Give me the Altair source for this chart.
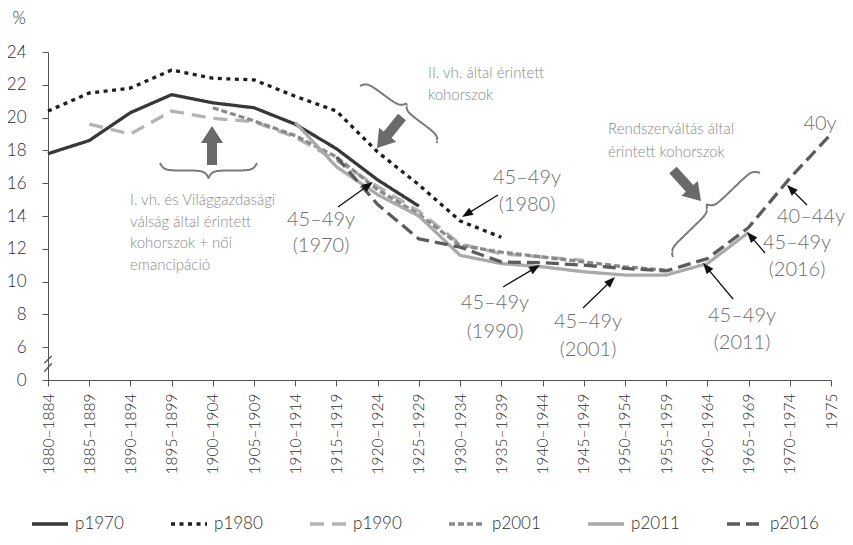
import math
import altair as alt
import pandas as pd

# ---------------- data ----------------
cats = ["1880–1884", "1885–1889", "1890–1894", "1895–1899", "1900–1904",
        "1905–1909", "1910–1914", "1915–1919", "1920–1924", "1925–1929",
        "1930–1934", "1935–1939", "1940–1944", "1945–1949", "1950–1954",
        "1955–1959", "1960–1964", "1965–1969", "1970–1974", "1975"]
N = None
p1970 = [17.8, 18.6, 20.3, 21.4, 20.9, 20.6, 19.6, 18.1, 16.2, 14.6] + [N] * 10
p1980 = [20.4, 21.5, 21.8, 22.9, 22.4, 22.3, 21.3, 20.4, 17.9, 15.9, 13.7, 12.7] + [N] * 8
p1990 = [N, 19.6, 19.0, 20.4, 19.95, 19.75, 18.8, 17.4, 15.8, 14.3, 12.3, 11.7, 11.5, 11.3] + [N] * 6
p2001 = [N] * 4 + [20.6, 19.8, 18.9, 17.6, 15.6, 14.1, 12.2, 11.8, 11.5, 11.2, 10.9, 10.7] + [N] * 4
p2011 = [N] * 6 + [19.7, 17.0, 15.3, 14.0, 11.6, 11.1, 10.9, 10.6, 10.4, 10.4, 11.1, 13.0] + [N] * 2
p2016 = [N] * 7 + [17.6, 14.7, 12.6, 12.1, 11.2, 11.15, 11.0, 10.8, 10.65, 11.4, 13.3, 16.3, 19.0]

names = ["p1970", "p1980", "p1990", "p2001", "p2011", "p2016"]
series = [p1970, p1980, p1990, p2001, p2011, p2016]
colors = ["#383838", "#1e1e1e", "#b3b3b3", "#8a8a8a", "#aaaaaa", "#5c5c5c"]
dashes = [[1, 0], [4, 4.5], [14, 8], [6, 3], [1, 0], [13, 6]]

ytick_vals = [4, 6, 8, 10, 12, 14, 16, 18, 20, 22, 24]

# ---------------- geometry helpers (annotation placement) ----------------
W, H = 783, 328
X0, Y0 = 48, 52
PX = W / 19.0
PY = H / 20.0


def d(x, y):
    """page pixel -> data coords (index, value)"""
    return ((x - X0) / PX, 4 + (Y0 + H - y) / PY)


rows = []
for nm, vals in zip(names, series):
    for i, v in enumerate(vals):
        if v is not None:
            rows.append({"i": i, "v": v, "s": nm})
df = pd.DataFrame(rows)

xs = alt.Scale(domain=[0, 19], nice=False, zero=False)
ys = alt.Scale(domain=[4, 24], nice=False, zero=False)

label_arr = "[" + ",".join("'" + c + "'" for c in cats) + "]"

FONT = "Lato"

xa = alt.Axis(
    values=list(range(20)), labelExpr=label_arr + "[datum.value]", labelAngle=270,
    title=None, grid=False, tickSize=6, labelPadding=7, labelFontSize=15.5,
    labelFont=FONT, labelFontWeight=300, labelColor="#2e2e2e", domainColor="#555555",
    tickColor="#555555", labelFlush=False, labelOverlap=False, labelBound=False)
ya = alt.Axis(
    values=ytick_vals, labelExpr="datum.value == 4 ? '0' : datum.label",
    title="%", titleAngle=0, titleX=-36, titleY=-34, titleAlign="left",
    titleBaseline="middle", titleFontSize=17, titleFontWeight=300,
    titleFont=FONT, titleColor="#2e2e2e",
    grid=False, tickSize=6, labelPadding=16, labelFontSize=17, labelFont=FONT,
    labelFontWeight=300, labelColor="#2e2e2e", domainColor="#555555", tickColor="#555555")


def X(f):
    return alt.X(f, type="quantitative", scale=xs, axis=xa, title=None)


def Y(f):
    return alt.Y(f, type="quantitative", scale=ys, axis=ya, title="%")


legend = alt.Legend(title=None, orient="none", legendX=-18, legendY=452,
                    direction="horizontal", columns=6, symbolType="stroke",
                    symbolSize=1296, symbolStrokeWidth=3.5, labelFontSize=17,
                    labelFont=FONT, labelFontWeight=300, labelColor="#2e2e2e",
                    columnPadding=40, labelOffset=5, padding=0)

lines = alt.Chart(df).mark_line(strokeWidth=3.3, strokeCap="butt", strokeJoin="round").encode(
    x=X("i"),
    y=Y("v"),
    color=alt.Color("s:N", scale=alt.Scale(domain=names, range=colors), legend=legend),
    strokeDash=alt.StrokeDash("s:N", scale=alt.Scale(domain=names, range=dashes), legend=legend),
)

# ---------------- annotation text ----------------
block_txt = [
    (130, 200, "I. vh. és Világgazdasági"),
    (130, 222, "válság által érintett"),
    (130, 243, "kohorszok + női"),
    (130, 265, "emancipáció"),
    (428, 73, "II. vh. által érintett"),
    (428, 95, "kohorszok"),
    (608, 129, "Rendszerváltás által"),
    (608, 152, "érintett kohorszok"),
]
lab_txt = [
    (321, 220, "45–49y"), (321, 246, "(1970)"),
    (527, 178, "45–49y"), (527, 205, "(1980)"),
    (495, 303, "45–49y"), (495, 332, "(1990)"),
    (588, 322, "45–49y"), (588, 350, "(2001)"),
    (742, 316, "45–49y"), (742, 343, "(2011)"),
    (797, 243, "45–49y"), (797, 270, "(2016)"),
    (811, 217, "40–44y"),
    (820, 124, "40y"),
]


def txt_df(lst):
    out = []
    for x, y, t in lst:
        a, b = d(x, y)
        out.append({"i": a, "v": b, "t": t})
    return pd.DataFrame(out)


blocks = alt.Chart(txt_df(block_txt)).mark_text(
    align="left", baseline="middle", font=FONT, fontSize=15, fontWeight=300, color="#8a8a8a"
).encode(x=X("i"), y=Y("v"), text="t:N")

labels = alt.Chart(txt_df(lab_txt)).mark_text(
    align="center", baseline="middle", font=FONT, fontSize=20, fontWeight=300, color="#6e6e6e"
).encode(x=X("i"), y=Y("v"), text="t:N")


# ---------------- arrows ----------------
def arrow_df(lst, back):
    out = []
    for (tx, ty, hx, hy) in lst:
        dx, dy = hx - tx, hy - ty
        L = math.hypot(dx, dy)
        ux, uy = dx / L, dy / L
        ex, ey = hx - ux * back, hy - uy * back
        a1, b1 = d(tx, ty)
        a2, b2 = d(ex, ey)
        a3, b3 = d(hx, hy)
        ang = math.degrees(math.atan2(dx, -dy)) % 360
        out.append({"i": a1, "v": b1, "i2": a2, "v2": b2, "hi": a3, "hv": b3, "ang": ang})
    return pd.DataFrame(out)


thin = [
    (338, 207, 373, 182),
    (498, 195, 462, 217),
    (503, 287, 540, 265),
    (583, 308, 615, 277),
    (733, 299, 703, 263),
    (765, 253, 747, 232),
    (807, 205, 787, 185),
]
thick = [
    (212, 165, 212, 126),
    (402, 117, 377, 148),
    (673, 170, 701, 201),
]

tdf = arrow_df(thin, 6)
kdf = arrow_df(thick, 12)

thin_line = alt.Chart(tdf).mark_rule(color="#111111", strokeWidth=1.3).encode(
    x=X("i"), y=Y("v"), x2="i2:Q", y2="v2:Q")
thin_head = alt.Chart(tdf).mark_point(
    shape="M0,0L-0.42,1.1L0.42,1.1Z", filled=True, size=400, color="#111111", opacity=1, strokeWidth=0
).encode(x=X("hi"), y=Y("hv"), angle=alt.Angle("ang:Q", scale=None))

thick_line = alt.Chart(kdf).mark_rule(color="#6a6a6a", strokeWidth=10).encode(
    x=X("i"), y=Y("v"), x2="i2:Q", y2="v2:Q")
thick_head = alt.Chart(kdf).mark_point(
    shape="M0,0L-0.65,1L0.65,1Z", filled=True, size=1156, color="#6a6a6a", opacity=1, strokeWidth=0
).encode(x=X("hi"), y=Y("hv"), angle=alt.Angle("ang:Q", scale=None))


# ---------------- braces ----------------
def brace(x0, y0, x1, y1, h, side, k=0.3, n=80):
    L = math.hypot(x1 - x0, y1 - y0)
    ux, uy = (x1 - x0) / L, (y1 - y0) / L
    nx, ny = -uy * side, ux * side
    half = L / 2
    pts = []
    for j in range(n + 1):
        u = L * j / n
        a = u if u <= half else L - u
        w = h / 2 * (1 - math.exp(-k * a)) + h / 2 * math.exp(-k * (half - a))
        pts.append((x0 + ux * u + nx * w, y0 + uy * u + ny * w))
    return pts


braces = [
    brace(160, 163, 257, 163, 15, 1),
    brace(360, 86, 437, 143, 14, -1),
    brace(673, 257, 760, 173, 15, -1),
]
brows = []
for b, pts in enumerate(braces):
    for o, (x, y) in enumerate(pts):
        a, c = d(x, y)
        brows.append({"i": a, "v": c, "b": b, "o": o})
bdf = pd.DataFrame(brows)

brace_layer = alt.Chart(bdf).mark_line(color="#7a7a7a", strokeWidth=2, interpolate="monotone").encode(
    x=X("i"), y=Y("v"), detail="b:N", order="o:Q")

# ---------------- axis break marks ----------------
brk = []
for (ax, ay, bx, by) in [(44.3, 363.3, 51.7, 356.0), (44.3, 371.7, 51.7, 363.3)]:
    a1, b1 = d(ax, ay)
    a2, b2 = d(bx, by)
    brk.append({"i": a1, "v": b1, "i2": a2, "v2": b2})
brk_layer = alt.Chart(pd.DataFrame(brk)).mark_rule(color="#555555", strokeWidth=1.3).encode(
    x=X("i"), y=Y("v"), x2="i2:Q", y2="v2:Q")

chart = alt.layer(
    lines, brace_layer, thick_line, thick_head, thin_line, thin_head, blocks, labels, brk_layer
).properties(
    width=W, height=H,
    padding={"left": 40, "top": 44, "right": 14, "bottom": 160},
    autosize=alt.AutoSizeParams(type="none"),
    background="white",
).configure(font=FONT, view=alt.ViewConfig(stroke=None))

chart.save("out.html", embed_options={"renderer": "svg", "actions": False})
